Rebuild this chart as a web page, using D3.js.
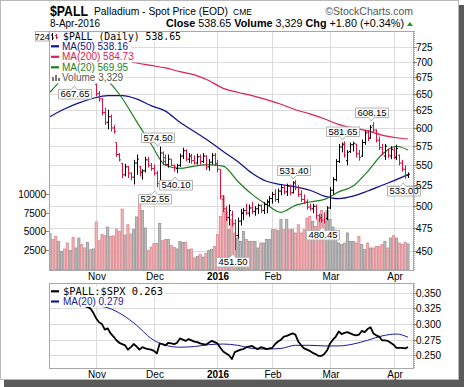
<!DOCTYPE html>
<html>
<head>
<meta charset="utf-8">
<script src="https://cdn.jsdelivr.net/npm/d3@7"></script>
<style>
  body { margin: 0; background: #fff; }
  svg text { font-family: "Liberation Sans", Arial, sans-serif; }
</style>
</head>
<body>
<svg width="464" height="387"></svg>
<script>
// ---- data ----
var opens = [690,695,688,684,691,702,693,689,700,694,709,718,708,695,699,684,
  664,650,642,622,608,616,600,580,564,552,538,548,540,535,553,548,541,543,557,550,
  546,540,528,566,560,551,558,550,546,550,562,569,558,562,556,553,561,555,562,548,554,563,
  552,545,508,497,487,490,480,467,483,492,495,492,498,494,497,501,495,502,505,
  509,514,508,518,522,517,524,516,528,522,514,508,505,499,497,500,489,487,484,486,
  498,519,532,555,574,578,556,568,577,578,565,562,580,594,586,603,597,583,573,562,570,562,
  570,560,563,553,545,537];
var highs = [698,697,692,694,705,704,697,703,702,712,724,720,710,703,701,690,
  667.65,654,643,629,626,619,604,580,566,553,552,549,541,557,564,549,545,561,561,553,
  551,543,574.5,568,564,564,558,551,552,565,573,571,566,565,563,565,564,566,563,558,566,566,
  557,545,513,500,502,495,485,487,497,498,503,502,505,500,503,502,505,508,512,
  517,520,521,526,525,527,526,530,531.4,525,519,514,508,503,503,502,491,491,493,500,
  523,535,558,578,580,581.65,570,580,581,578,570,584,597,597,604,608.15,598,588,578,578,572,575,
  574,577,564,557,550,541];
var lows = [686,684,680,682,689,690,685,687,690,692,706,705,692,690,680,678,
  646,638,618,604,598,595,592,561,555,534,536,534,531,526,538,536,532,541,547,543,
  537,522.55,527,550,549,547,549,542,540.1,548,558,555,553,552,551,551,551,553,544,543,551,549,
  541,508,493,483,478,477,451.5,464,478,484,490,488,491,489,491,492,491,492,500,
  503,505,504,513,514,512,513,515,519,511,505,503,496,495,492,485,482,481,480.45,484,
  497,514,530,553,567,560,550,566,568,560,556,561,577,582,585,594,580,570,563,557,559,558,
  558,557,550,542,533,534];
var closes = [695,688,684,691,702,693,689,700,694,709,718,708,695,699,684,686,
  650,642,622,608,616,600,595,564,557,538,548,540,535,553,558,541,543,557,550,546,
  540,527,566,555,551,558,550,548,550,562,569,558,562,556,553,561,555,562,548,554,563,552,
  545,512,497,487,495,480,467,483,492,495,492,498,494,497,501,495,502,505,509,
  514,508,518,522,517,524,516,528,522,514,508,505,499,497,500,489,486,484,482,498,
  519,532,555,574,577,563,567,577,579,565,560,580,593,586,601,597,583,573,566,575,563,571,
  561,572,553,545,536.85,538.65];
var volumes = [4700,3900,4340,3670,2330,2650,3450,2460,4200,2780,4120,3230,2780,3540,2550,2650,
  6270,3760,4570,4430,5600,4340,4400,5330,5010,8020,4530,5910,4660,5240,6950,8830,7800,5470,2420,2900,
  3360,3400,6050,3760,3900,3900,3090,2860,2650,3670,3500,3540,2550,2650,1440,1650,1880,1560,2020,2460,2600,3000,
  4570,7030,9800,7700,5240,6600,4800,4120,3670,5010,3900,3670,3670,3670,2780,3450,3450,3900,3900,
  5240,5240,5100,6590,5240,6590,5240,5240,4800,5910,4800,5240,6810,7030,6360,5690,6680,7840,6140,7840,
  6590,5600,4800,3450,3230,3450,4800,3670,3670,3450,4340,3230,2550,3450,2780,2780,3000,3000,3230,3670,2780,4120,
  4430,4120,3450,3230,3500,3329];
var ratio = [0.345,0.348,0.350,0.352,0.355,0.352,0.348,0.345,0.342,0.338,0.335,0.332,
  0.329,0.327,0.325,0.318,0.309,0.303,0.300,0.291,0.293,0.285,0.280,0.274,0.270,0.268,0.266,0.259,
  0.263,0.268,0.264,0.259,0.263,0.261,0.260,0.259,0.257,0.253,0.269,0.268,0.266,0.270,0.269,0.268,
  0.270,0.277,0.275,0.273,0.276,0.274,0.272,0.271,0.269,0.268,0.267,0.270,0.273,0.271,0.269,0.262,
  0.256,0.253,0.250,0.244,0.255,0.257,0.259,0.260,0.263,0.264,0.265,0.262,0.260,0.263,0.262,0.260,
  0.261,0.262,0.268,0.272,0.275,0.280,0.281,0.283,0.285,0.283,0.272,0.266,0.261,0.259,0.257,0.254,
  0.252,0.249,0.249,0.252,0.258,0.269,0.275,0.280,0.288,0.284,0.286,0.287,0.285,0.283,0.282,0.283,
  0.289,0.287,0.292,0.295,0.285,0.282,0.280,0.274,0.274,0.273,0.270,0.267,0.262,0.262,0.262,0.261,0.263];

// moving averages, read every 5 bars
var maIdx = [0,5,10,15,20,25,30,35,40,45,50,55,60,65,70,75,80,85,90,95,100,105,110,115,120,124];
var ma20 = [652,675,688,686,670,643,609,578,550,546,549,551,549,530,514,502,493,501,505,508,517,524,542,564,575,569.95];
var ma50 = [616,627,636,643,647,647,642,632,624,608,595,582,568,555,540,530,526,523,519,512,509,512,518,525,532,538.16];
var ma200 = [735,728,721,714,708,703,698,694,690,684,679,670,658,652,647,641,634,626,620,613,605,600,596,590,586.5,584.73];
var ratioMa = [0.338,0.336,0.333,0.330,0.326,0.315,0.298,0.277,0.266,0.263,0.264,0.267,0.268,0.266,0.261,0.260,0.261,0.266,0.266,0.265,0.265,0.268,0.274,0.281,0.284,0.279];

// labelled highs and lows
var annoIdx = [16,37,38,44,64,85,95,102,112,123];
var annoVal = [667.65,522.55,574.50,540.10,451.50,531.40,480.45,581.65,608.15,533.00];
var annoSide = ["below","below","above","below","below","above","below","above","above","below"];

var priceTicks = [450,475,500,525,550,575,600,625,650,675,700,725];
var volTicks = [2500,5000,7500,10000];
var ratioTicks = [0.250,0.275,0.300,0.325,0.350];
var monthNames = ["Nov","Dec","2016","Feb","Mar","Apr"];
var holidays = ["2015-11-26","2015-12-25","2016-01-01","2016-01-18","2016-02-15","2016-03-25"];

// ---- setup ----
var svg = d3.select("svg");
var fmt = d3.utcFormat("%Y-%m-%d");
var dates = d3.utcDay.range(new Date(Date.UTC(2015, 9, 9)), new Date(Date.UTC(2016, 3, 9)))
  .filter(function(d) {
    var w = d.getUTCDay();
    return w > 0 && w < 6 && holidays.indexOf(fmt(d)) < 0;
  });
var n = closes.length;

var monthIdx = [];
dates.forEach(function(d, i) {
  if (i > 0 && d.getUTCMonth() != dates[i - 1].getUTCMonth()) monthIdx.push(i);
});

var pTop = {l: 49, r: 413, t: 31, b: 270},
    pBot = {l: 49, r: 413, t: 283, b: 368};

var x = d3.scaleLinear().domain([0, n - 1]).range([50, 408]);
var y = d3.scaleLog().domain([431, 752]).range([pTop.b, pTop.t]);
var yv = d3.scaleLinear().domain([0, 10000]).range([268.6, 194.3]);
var yr = d3.scaleLinear().domain([0.25, 0.35]).range([355.3, 292.8]);

var RED = "#e0103c", GRID = "#dcdcdc", MONO = "'DejaVu Sans Mono', monospace";

function up(i) { return i == 0 ? closes[0] >= opens[0] : closes[i] >= closes[i - 1]; }

// ---- frame ----
svg.append("rect").attr("x", 4).attr("y", 5).attr("width", 460).attr("height", 382).attr("fill", "#5a5a5a");
svg.append("rect").attr("x", 0.5).attr("y", 0.5).attr("width", 458).attr("height", 379)
  .attr("fill", "#fff").attr("stroke", "#b8b8b8");

// ---- header ----
svg.append("text").attr("x", 50).attr("y", 16).attr("font-size", 15).attr("font-weight", "bold")
  .attr("textLength", 38).attr("lengthAdjust", "spacingAndGlyphs").text("$PALL");
svg.append("text").attr("x", 94).attr("y", 14.5).attr("font-size", 10.5)
  .attr("textLength", 134).attr("lengthAdjust", "spacingAndGlyphs").text("Palladium - Spot Price (EOD)");
svg.append("text").attr("x", 233).attr("y", 14.5).attr("font-size", 8.5).text("CME");
svg.append("text").attr("x", 413).attr("y", 14.5).attr("font-size", 10.5).attr("fill", "#555")
  .attr("text-anchor", "end").text("\u00a9StockCharts.com");
svg.append("text").attr("x", 50).attr("y", 26.5).attr("font-size", 10).text("8-Apr-2016");
var info = svg.append("text").attr("x", 404).attr("y", 26.5).attr("font-size", 10.8).attr("text-anchor", "end");
info.append("tspan").attr("font-weight", "bold").text("Close ");
info.append("tspan").text(closes[n - 1].toFixed(2) + "  ");
info.append("tspan").attr("font-weight", "bold").text("Volume ");
info.append("tspan").text(d3.format(",")(volumes[n - 1]) + "  ");
info.append("tspan").attr("font-weight", "bold").text("Chg ");
info.append("tspan").text("+1.80 (+0.34%)");
svg.append("path").attr("d", "M407,26H413L410,22Z").attr("fill", "#1a9a1a");

// ---- clip paths ----
var defs = svg.append("defs");
defs.append("clipPath").attr("id", "ctop").append("rect")
  .attr("x", pTop.l).attr("y", pTop.t).attr("width", pTop.r - pTop.l).attr("height", pTop.b - pTop.t);
defs.append("clipPath").attr("id", "cbot").append("rect")
  .attr("x", pBot.l).attr("y", pBot.t).attr("width", pBot.r - pBot.l).attr("height", pBot.b - pBot.t);

// ---- top panel ----
svg.append("rect").attr("x", pTop.l + 0.5).attr("y", pTop.t + 0.5)
  .attr("width", pTop.r - pTop.l).attr("height", pTop.b - pTop.t).attr("fill", "#fff");

var g = svg.append("g").attr("clip-path", "url(#ctop)");
g.selectAll(".hg").data(priceTicks).enter().append("line")
  .attr("x1", pTop.l).attr("x2", pTop.r)
  .attr("y1", function(d) { return Math.round(y(d)) + 0.5; })
  .attr("y2", function(d) { return Math.round(y(d)) + 0.5; })
  .attr("stroke", GRID);
g.selectAll(".vg").data(monthIdx).enter().append("line")
  .attr("y1", pTop.t).attr("y2", pTop.b)
  .attr("x1", function(d) { return Math.round(x(d)) + 0.5; })
  .attr("x2", function(d) { return Math.round(x(d)) + 0.5; })
  .attr("stroke", GRID);

// volume
g.selectAll(".vol").data(volumes).enter().append("rect")
  .attr("x", function(d, i) { return x(i) - 1.1; })
  .attr("width", 2.2)
  .attr("y", function(d) { return yv(d); })
  .attr("height", function(d) { return pTop.b - yv(d); })
  .attr("fill", function(d, i) { return up(i) ? "#bcbcbc" : "#f0b4b8"; })
  .attr("stroke", function(d, i) { return up(i) ? "#8c8c8c" : "#d98088"; })
  .attr("stroke-width", 0.7);

// moving averages
function maLine(arr) {
  return d3.line().curve(d3.curveMonotoneX)
    .x(function(d, k) { return x(maIdx[k]); })
    .y(function(d) { return y(d); })(arr);
}
g.append("path").attr("d", maLine(ma200)).attr("fill", "none").attr("stroke", "#dd2050").attr("stroke-width", 1.2);
g.append("path").attr("d", maLine(ma50)).attr("fill", "none").attr("stroke", "#10108c").attr("stroke-width", 1.2);
g.append("path").attr("d", maLine(ma20)).attr("fill", "none").attr("stroke", "#1e7e1e").attr("stroke-width", 1.2);

// price bars
g.selectAll(".bar").data(closes).enter().append("path")
  .attr("d", function(c, i) {
    var xc = Math.round(x(i)) + 0.5;
    return "M" + xc + "," + y(highs[i]) + "V" + y(lows[i]) +
      "M" + (xc - 1.5) + "," + y(opens[i]) + "H" + xc +
      "M" + xc + "," + y(c) + "H" + (xc + 1.5);
  })
  .attr("fill", "none")
  .attr("stroke", function(c, i) { return up(i) ? "#000" : RED; })
  .attr("stroke-width", 1);

// labels of highs and lows
var ag = svg.append("g");
annoIdx.forEach(function(idx, k) {
  var px = x(idx) - 2, py = y(annoVal[k]);
  var side = annoSide[k];
  if (k == 0) { px = x(idx) - 22; }
  var t = ag.append("text").attr("font-size", 9.5).attr("text-anchor", "middle")
    .text(annoVal[k].toFixed(2));
  var w = t.node().getComputedTextLength() + 4, h = 9.5;
  var l = Math.round(px - w / 2) + 0.5, r = l + Math.round(w);
  var tp, bt, d;
  if (side == "below") {
    tp = Math.round(py + 7) + 0.5; bt = tp + h;
    d = "M" + l + "," + tp + "H" + (px - 3) + "L" + px + "," + (tp - 3.5) + "L" + (px + 3) + "," + tp +
      "H" + r + "V" + bt + "H" + l + "Z";
  } else {
    bt = Math.round(py - 5) + 0.5; tp = bt - h;
    d = "M" + l + "," + tp + "H" + r + "V" + bt + "H" + (px + 3) + "L" + px + "," + (bt + 3.5) +
      "L" + (px - 3) + "," + bt + "H" + l + "Z";
  }
  ag.insert("path", "text").attr("d", d).attr("fill", "#fff").attr("stroke", "#b4b4b4");
  t.attr("x", (l + r) / 2).attr("y", bt - 1.8);
});

// legend (top)
var lg = svg.append("g");
function legendRow(yb, txt, color, icon, mono) {
  var t = lg.append("text").attr("x", mono ? 63 : 62).attr("y", yb).attr("font-size", mono ? 9.8 : 10)
    .attr("fill", color).text(txt);
  if (mono) t.style("font-family", MONO);
  var w = t.node().getComputedTextLength();
  lg.insert("rect", "text").attr("x", pTop.l + 1).attr("y", yb - 8.5).attr("width", w + 15).attr("height", 10.6).attr("fill", "#fff");
  if (icon == "dash") {
    lg.append("line").attr("x1", 51).attr("x2", 59).attr("y1", yb - 3.5).attr("y2", yb - 3.5)
      .attr("stroke", color).attr("stroke-width", 2.2);
  }
  return t;
}
legendRow(39.5, "$PALL (Daily) " + closes[n - 1].toFixed(2), "#000", null, true);
legendRow(49.8, "MA(50) " + ma50[ma50.length - 1].toFixed(2), "#10108c", "dash");
legendRow(60.3, "MA(200) " + ma200[ma200.length - 1].toFixed(2), "#dd2050", "dash");
legendRow(70.8, "MA(20) " + ma20[ma20.length - 1].toFixed(2), "#1e7e1e", "dash");
legendRow(81.3, "Volume " + d3.format(",")(volumes[n - 1]), "#555");
// icons
lg.append("path").attr("d", "M52.5,33V40M51,35H52.5M52.5,38H54").attr("stroke", "#000").attr("fill", "none");
lg.append("path").attr("d", "M56.5,34V39M55,35.5H56.5M56.5,37.5H58").attr("stroke", RED).attr("fill", "none");
lg.append("path").attr("d", "M52,81V77H54V81ZM55,81V75H57V81ZM58,81V78H60V81Z").attr("fill", "#777");
// 724 marker
svg.append("rect").attr("x", 35.5).attr("y", 31.5).attr("width", 13.5).attr("height", 9.5)
  .attr("fill", "#fff").attr("stroke", "#b4b4b4");
svg.append("text").attr("x", 42.3).attr("y", 39.5).attr("font-size", 9).attr("text-anchor", "middle").text("724");

svg.append("rect").attr("x", pTop.l + 0.5).attr("y", pTop.t + 0.5)
  .attr("width", pTop.r - pTop.l).attr("height", pTop.b - pTop.t).attr("fill", "none").attr("stroke", "#a8a8a8");

// right price axis
svg.append("line").attr("x1", pTop.r + 1.5).attr("x2", pTop.r + 1.5).attr("y1", pTop.t).attr("y2", pTop.b)
  .attr("stroke", "#aaa").attr("stroke-dasharray", "1,1");
var ax = svg.append("g");
priceTicks.forEach(function(p) {
  var yy = Math.round(y(p)) + 0.5;
  ax.append("line").attr("x1", pTop.r).attr("x2", pTop.r + 4).attr("y1", yy).attr("y2", yy).attr("stroke", "#888");
  ax.append("text").attr("x", 416).attr("y", yy + 3.5).attr("font-size", 10).text(p);
});
volTicks.forEach(function(v) {
  var yy = Math.round(yv(v)) + 0.5;
  ax.append("line").attr("x1", pTop.l - 3).attr("x2", pTop.l).attr("y1", yy).attr("y2", yy).attr("stroke", "#888");
  ax.append("text").attr("x", 46).attr("y", yy + 3.5).attr("font-size", 10).attr("text-anchor", "end").text(v);
});

// month labels
function monthLabels(yb) {
  monthIdx.forEach(function(idx, k) {
    svg.append("text").attr("x", Math.round(x(idx)) + 1).attr("y", yb).attr("font-size", 10)
      .attr("text-anchor", "middle").attr("font-weight", monthNames[k] == "2016" ? "bold" : null)
      .text(monthNames[k]);
  });
}
monthLabels(280);

// ---- bottom panel ----
svg.append("rect").attr("x", pBot.l + 0.5).attr("y", pBot.t + 0.5)
  .attr("width", pBot.r - pBot.l).attr("height", pBot.b - pBot.t).attr("fill", "#fff");
var g2 = svg.append("g").attr("clip-path", "url(#cbot)");
g2.selectAll(".hg").data(ratioTicks).enter().append("line")
  .attr("x1", pBot.l).attr("x2", pBot.r)
  .attr("y1", function(d) { return Math.round(yr(d)) + 0.5; })
  .attr("y2", function(d) { return Math.round(yr(d)) + 0.5; })
  .attr("stroke", GRID);
g2.selectAll(".vg").data(monthIdx).enter().append("line")
  .attr("y1", pBot.t).attr("y2", pBot.b)
  .attr("x1", function(d) { return Math.round(x(d)) + 0.5; })
  .attr("x2", function(d) { return Math.round(x(d)) + 0.5; })
  .attr("stroke", GRID);
g2.append("path")
  .attr("d", d3.line().curve(d3.curveMonotoneX).x(function(d, k) { return x(maIdx[k]); }).y(function(d) { return yr(d); })(ratioMa))
  .attr("fill", "none").attr("stroke", "#1a1aa0").attr("stroke-width", 1);
g2.append("path")
  .attr("d", d3.line().x(function(d, i) { return x(i); }).y(function(d) { return yr(d); })(ratio))
  .attr("fill", "none").attr("stroke", "#000").attr("stroke-width", 1.8).attr("stroke-linejoin", "round");

var lg2 = svg.append("g");
[["$PALL:$SPX " + ratio[n - 1].toFixed(3), "#000", 294.8, true], ["MA(20) " + ratioMa[ratioMa.length - 1].toFixed(3), "#1a1aa0", 305, false]]
  .forEach(function(row) {
    var t = lg2.append("text").attr("x", 63).attr("y", row[2]).attr("font-size", row[3] ? 10.4 : 10).attr("fill", row[1]).text(row[0]);
    if (row[3]) t.style("font-family", MONO);
    var w = t.node().getComputedTextLength();
    lg2.insert("rect", "text").attr("x", pBot.l + 1).attr("y", row[2] - 8.5).attr("width", w + 15).attr("height", 10.4).attr("fill", "#fff");
    lg2.append("line").attr("x1", 51).attr("x2", 59).attr("y1", row[2] - 3.5).attr("y2", row[2] - 3.5)
      .attr("stroke", row[1]).attr("stroke-width", 2.2);
  });

svg.append("rect").attr("x", pBot.l + 0.5).attr("y", pBot.t + 0.5)
  .attr("width", pBot.r - pBot.l).attr("height", pBot.b - pBot.t).attr("fill", "none").attr("stroke", "#a8a8a8");
svg.append("line").attr("x1", pBot.r + 1.5).attr("x2", pBot.r + 1.5).attr("y1", pBot.t).attr("y2", pBot.b)
  .attr("stroke", "#aaa").attr("stroke-dasharray", "1,1");
ratioTicks.forEach(function(v) {
  var yy = Math.round(yr(v)) + 0.5;
  svg.append("line").attr("x1", pBot.r).attr("x2", pBot.r + 4).attr("y1", yy).attr("y2", yy).attr("stroke", "#888");
  svg.append("text").attr("x", 416).attr("y", yy + 3.5).attr("font-size", 10).text(v.toFixed(3));
});
monthLabels(378);
</script>
</body>
</html>
